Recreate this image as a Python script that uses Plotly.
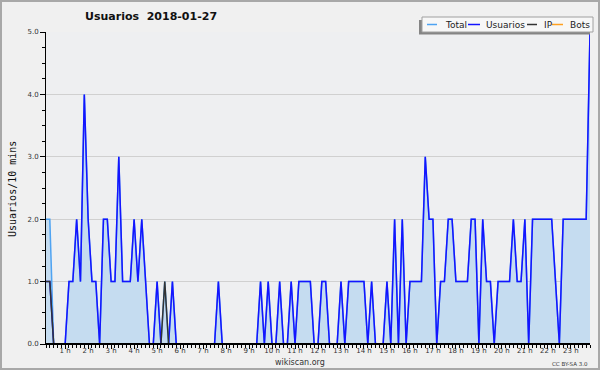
import plotly.graph_objects as go

# ---- data (10-minute slots, 00:10 .. 23:50) ----
minutes = list(range(10, 1440, 10))

usuarios = [1, 1, 0, 0, 0,
            0, 1, 1, 2, 1, 4,
            2, 1, 1, 0, 2, 2,
            1, 1, 3, 1, 1, 1,
            2, 1, 2, 1, 0, 0,
            1, 0, 0, 0, 1, 0,
            0, 0, 0, 0, 0, 0,
            0, 0, 0, 0, 1, 0,
            0, 0, 0, 0, 0, 0,
            0, 0, 0, 1, 0, 1,
            0, 0, 1, 0, 0, 1,
            0, 1, 1, 1, 1, 0,
            0, 1, 1, 0, 0, 0,
            1, 0, 1, 1, 1, 1,
            1, 0, 1, 0, 0, 0,
            1, 0, 2, 0, 2, 0,
            1, 1, 1, 1, 3, 2,
            2, 0, 1, 1, 2, 2,
            1, 1, 1, 1, 2, 2,
            0, 2, 1, 1, 0, 1,
            1, 1, 1, 2, 1, 1,
            2, 0, 2, 2, 2, 2,
            2, 2, 1, 0, 2, 2,
            2, 2, 2, 2, 2, 5]

ip = [1, 1, 0, 0, 0,
      0, 0, 0, 0, 0, 0,
      0, 0, 0, 0, 0, 0,
      0, 0, 0, 0, 0, 0,
      0, 0, 0, 0, 0, 0,
      0, 0, 1, 0, 0, 0,
      0, 0, 0, 0, 0, 0,
      0, 0, 0, 0, 0, 0,
      0, 0, 0, 0, 0, 0,
      0, 0, 0, 0, 0, 0,
      0, 0, 0, 0, 0, 0,
      0, 0, 0, 0, 0, 0,
      0, 0, 0, 0, 0, 0,
      0, 0, 0, 0, 0, 0,
      0, 0, 0, 0, 0, 0,
      0, 0, 0, 0, 0, 0,
      0, 0, 0, 0, 0, 0,
      0, 0, 0, 0, 0, 0,
      0, 0, 0, 0, 0, 0,
      0, 0, 0, 0, 0, 0,
      0, 0, 0, 0, 0, 0,
      0, 0, 0, 0, 0, 0,
      0, 0, 0, 0, 0, 0,
      0, 0, 0, 0, 0, 0]

total = [2, 2, 0, 0, 0,
         0, 1, 1, 2, 1, 4,
         2, 1, 1, 0, 2, 2,
         1, 1, 3, 1, 1, 1,
         2, 1, 2, 1, 0, 0,
         1, 0, 1, 0, 1, 0,
         0, 0, 0, 0, 0, 0,
         0, 0, 0, 0, 1, 0,
         0, 0, 0, 0, 0, 0,
         0, 0, 0, 1, 0, 1,
         0, 0, 1, 0, 0, 1,
         0, 1, 1, 1, 1, 0,
         0, 1, 1, 0, 0, 0,
         1, 0, 1, 1, 1, 1,
         1, 0, 1, 0, 0, 0,
         1, 0, 2, 0, 2, 0,
         1, 1, 1, 1, 3, 2,
         2, 0, 1, 1, 2, 2,
         1, 1, 1, 1, 2, 2,
         0, 2, 1, 1, 0, 1,
         1, 1, 1, 2, 1, 1,
         2, 0, 2, 2, 2, 2,
         2, 2, 1, 0, 2, 2,
         2, 2, 2, 2, 2, 5]

bots = [0] * len(minutes)

series_names = ["Total", "Usuarios", "IP", "Bots"]
series_colors = ["#4ea3f2", "#1414ff", "#333333", "#ffa020"]

title_text = "Usuarios\u00a0\u00a02018-01-27"
y_title = "Usuarios/10 mins"

hours = [m / 60 for m in minutes]

# ---- geometry helpers ----
W, H = 600, 370
L, R, T, B = 46, 10, 32, 26
PW, PH = W - L - R, H - T - B


def fx(px):
    return (px - L) / PW


def fy(py):
    return (H - B - py) / PH


fig = go.Figure()
fig.add_trace(go.Scatter(x=hours, y=total, mode="lines", fill="tozeroy",
                         fillcolor="#c5dcf0",
                         line=dict(color=series_colors[0], width=1.5),
                         name=series_names[0]))
fig.add_trace(go.Scatter(x=hours, y=usuarios, mode="lines",
                         line=dict(color=series_colors[1], width=1.5),
                         name=series_names[1]))
fig.add_trace(go.Scatter(x=hours, y=ip, mode="lines",
                         line=dict(color=series_colors[2], width=1.5),
                         name=series_names[2]))
fig.add_trace(go.Scatter(x=hours, y=bots, mode="lines",
                         line=dict(color=series_colors[3], width=1.5),
                         name=series_names[3]))

shapes = []
annotations = []

# outer border
shapes.append(dict(type="rect", xref="paper", yref="paper",
                   x0=fx(1), x1=fx(599), y0=fy(1), y1=fy(369),
                   line=dict(color="#a8a8a8", width=2), layer="below"))
# bottom axis line covering zero-level strokes
shapes.append(dict(type="line", xref="paper", yref="paper",
                   x0=0, x1=1, y0=0, y1=0,
                   line=dict(color="#000000", width=2), layer="above"))

# legend box with shadow
shapes.append(dict(type="rect", xref="paper", yref="paper",
                   x0=fx(419), x1=fx(590), y0=fy(20), y1=fy(34.5),
                   fillcolor="#858585", line=dict(width=0), layer="above"))
shapes.append(dict(type="rect", xref="paper", yref="paper",
                   x0=fx(422), x1=fx(593), y0=fy(17), y1=fy(32),
                   fillcolor="#f7f7f7", line=dict(color="#a0a0a0", width=1),
                   layer="above"))
leg_line_x = [(427, 437), (468, 480), (527, 537), (552, 563)]
leg_text_x = [442.5, 484, 541.5, 568]
for name, col, (a, b), tx in zip(series_names, series_colors, leg_line_x, leg_text_x):
    shapes.append(dict(type="line", xref="paper", yref="paper",
                       x0=fx(a), x1=fx(b), y0=fy(24.5), y1=fy(24.5),
                       line=dict(color=col, width=1.5), layer="above"))
    annotations.append(dict(xref="paper", yref="paper", x=fx(tx), y=fy(24.5),
                            text=name, showarrow=False, xanchor="left",
                            yanchor="middle",
                            font=dict(family="DejaVu Sans", size=9, color="#222")))

# title
annotations.append(dict(xref="paper", yref="paper", x=fx(151), y=fy(16.5),
                        text="<b>" + title_text + "</b>", showarrow=False,
                        xanchor="center", yanchor="middle",
                        font=dict(family="DejaVu Sans", size=11, color="#111")))
# y title
annotations.append(dict(xref="paper", yref="paper", x=fx(12), y=fy(189),
                        text=y_title, showarrow=False, textangle=-90,
                        xanchor="center", yanchor="middle",
                        font=dict(family="DejaVu Sans Mono", size=10, color="#111")))
# footer
annotations.append(dict(xref="paper", yref="paper", x=fx(300), y=fy(362),
                        text="wikiscan.org", showarrow=False,
                        xanchor="center", yanchor="middle",
                        font=dict(family="DejaVu Sans", size=8, color="#333")))
annotations.append(dict(xref="paper", yref="paper", x=fx(590), y=fy(363.5),
                        text="CC BY-SA 3.0", showarrow=False,
                        xanchor="right", yanchor="middle",
                        font=dict(family="DejaVu Sans", size=5.5, color="#333")))

fig.update_layout(
    width=W, height=H,
    margin=dict(l=L, r=R, t=T, b=B, pad=0),
    paper_bgcolor="#f0f0f0",
    plot_bgcolor="#eeeff1",
    showlegend=False,
    shapes=shapes,
    annotations=annotations,
    xaxis=dict(range=[hours[0], hours[-1]], tickmode="linear", tick0=0, dtick=1,
               ticksuffix=" h", ticks="outside", ticklen=4, tickcolor="#000",
               ticklabelstandoff=-4,
               showline=True, linecolor="#000", linewidth=1,
               showgrid=False, zeroline=False,
               tickfont=dict(family="DejaVu Sans", size=7, color="#333"),
               minor=dict(tick0=0, dtick=1 / 6, ticks="outside", ticklen=3,
                          tickcolor="#000", showgrid=False)),
    yaxis=dict(range=[0, 5], tickmode="linear", tick0=0, dtick=1,
               tickformat=".1f", ticks="outside", ticklen=5, tickcolor="#000",
               showline=True, linecolor="#000", linewidth=1,
               showgrid=True, gridcolor="#d0d0d0", gridwidth=1,
               zeroline=False,
               tickfont=dict(family="DejaVu Sans", size=7, color="#333"),
               minor=dict(tick0=0, dtick=0.25, ticks="outside", ticklen=3,
                          tickcolor="#000", showgrid=False)),
)

fig.write_html("out.html")
